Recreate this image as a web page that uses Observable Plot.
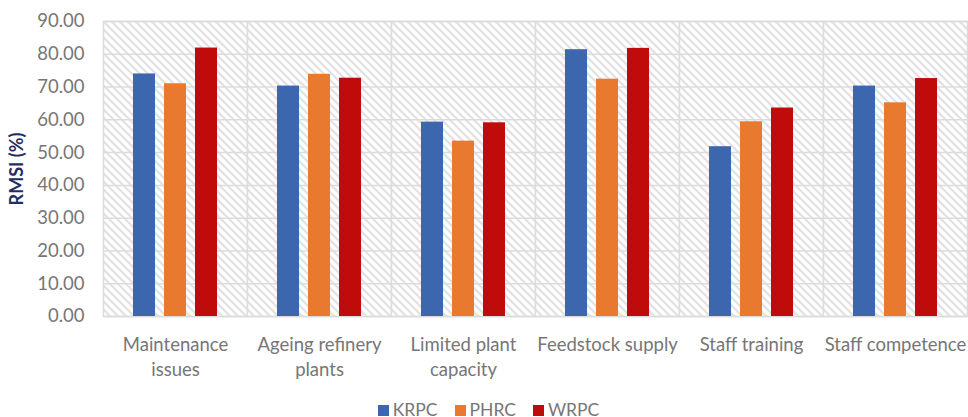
<!DOCTYPE html>
<html>
<head>
<meta charset="utf-8">
<script src="https://cdn.jsdelivr.net/npm/d3@7"></script>
<script src="https://cdn.jsdelivr.net/npm/@observablehq/plot@0.6"></script>
<style>
  body { margin: 0; background: white; font-family: Lato, "Open Sans", sans-serif; }
  #wrap { position: relative; width: 968px; height: 417px; overflow: hidden; }
  #legend { position: absolute; left: 0; top: 399px; width: 968px; display: flex; justify-content: center; gap: 17px; padding-left: 9px; box-sizing: border-box; font-size: 17.5px; color: #767676; line-height: 22px; }
  #legend .item { display: flex; align-items: center; gap: 4px; }
  #legend .sw { width: 11px; height: 11px; display: inline-block; }
</style>
</head>
<body>
<svg width="0" height="0" style="position:absolute">
  <defs>
    <pattern id="hatch" patternUnits="userSpaceOnUse" width="8" height="8">
      <rect width="8" height="8" fill="white"></rect>
      <path d="M-2,-2 L10,10 M-2,6 L2,10 M6,-2 L10,2" stroke="#d8d8d8" stroke-width="1.6"></path>
    </pattern>
  </defs>
</svg>
<div id="wrap"></div>
<script>
const categories = ["Maintenance issues", "Ageing refinery plants", "Limited plant capacity", "Feedstock supply", "Staff training", "Staff competence"];
const categoryLabels = ["Maintenance\nissues", "Ageing refinery\nplants", "Limited plant\ncapacity", "Feedstock supply", "Staff training", "Staff competence"];
const series = ["KRPC", "PHRC", "WRPC"];
const krpc = [74.0, 70.3, 59.3, 81.4, 51.8, 70.3];
const phrc = [71.0, 73.9, 53.5, 72.4, 59.4, 65.2];
const wrpc = [81.9, 72.7, 59.1, 81.8, 63.6, 72.6];
const yTicks = [0, 10, 20, 30, 40, 50, 60, 70, 80, 90];
const colors = ["#3c66ae", "#e8792f", "#c00b0b"];

const values = [krpc, phrc, wrpc];
const data = [];
categories.forEach((c, i) => series.forEach((s, j) => data.push({cat: c, series: s, value: values[j][i]})));

const chart = Plot.plot({
  width: 968,
  height: 395,
  marginLeft: 101,
  marginRight: 0,
  marginTop: 21,
  marginBottom: 79,
  style: {fontFamily: "Lato, 'Open Sans', sans-serif", fontSize: "18.5px", color: "#767676", background: "white", overflow: "visible"},
  fx: {domain: categories, paddingInner: 0, paddingOuter: 0, label: null, axis: null},
  x: {domain: series, paddingInner: 0.3, paddingOuter: 0.94, axis: null},
  y: {domain: [0, 90], ticks: yTicks, tickFormat: d3.format(".2f"), label: null},
  color: {domain: series, range: colors},
  marks: [
    Plot.frame({fill: "url(#hatch)", stroke: "#dcdcdc", strokeWidth: 1.5}),
    Plot.gridY(yTicks, {stroke: "#dcdcdc", strokeOpacity: 1, strokeWidth: 1.5}),
    Plot.barY(data, {fx: "cat", x: "series", y: "value", fill: "series"}),
    Plot.axisFx({anchor: "bottom", tickSize: 0, tickPadding: 17, lineHeight: 1.35, label: null,
                 tickFormat: d => categoryLabels[categories.indexOf(d)]}),
    Plot.axisY(yTicks, {tickSize: 0, tickPadding: 19, tickFormat: d3.format(".2f"), label: "RMSI (%)", labelAnchor: "center", labelArrow: "none", labelOffset: 93})
  ]
});
document.getElementById("wrap").appendChild(chart);

d3.select(chart).selectAll("text").each(function() {
  if (this.textContent === "RMSI (%)") {
    d3.select(this).attr("fill", "#1f2f5f").style("font-weight", "bold").style("font-size", "18px");
  }
});

const legend = d3.select("#wrap").append("div").attr("id", "legend");
series.forEach((s, i) => {
  const it = legend.append("div").attr("class", "item");
  it.append("span").attr("class", "sw").style("background", colors[i]);
  it.append("span").text(s);
});
</script>
</body>
</html>
